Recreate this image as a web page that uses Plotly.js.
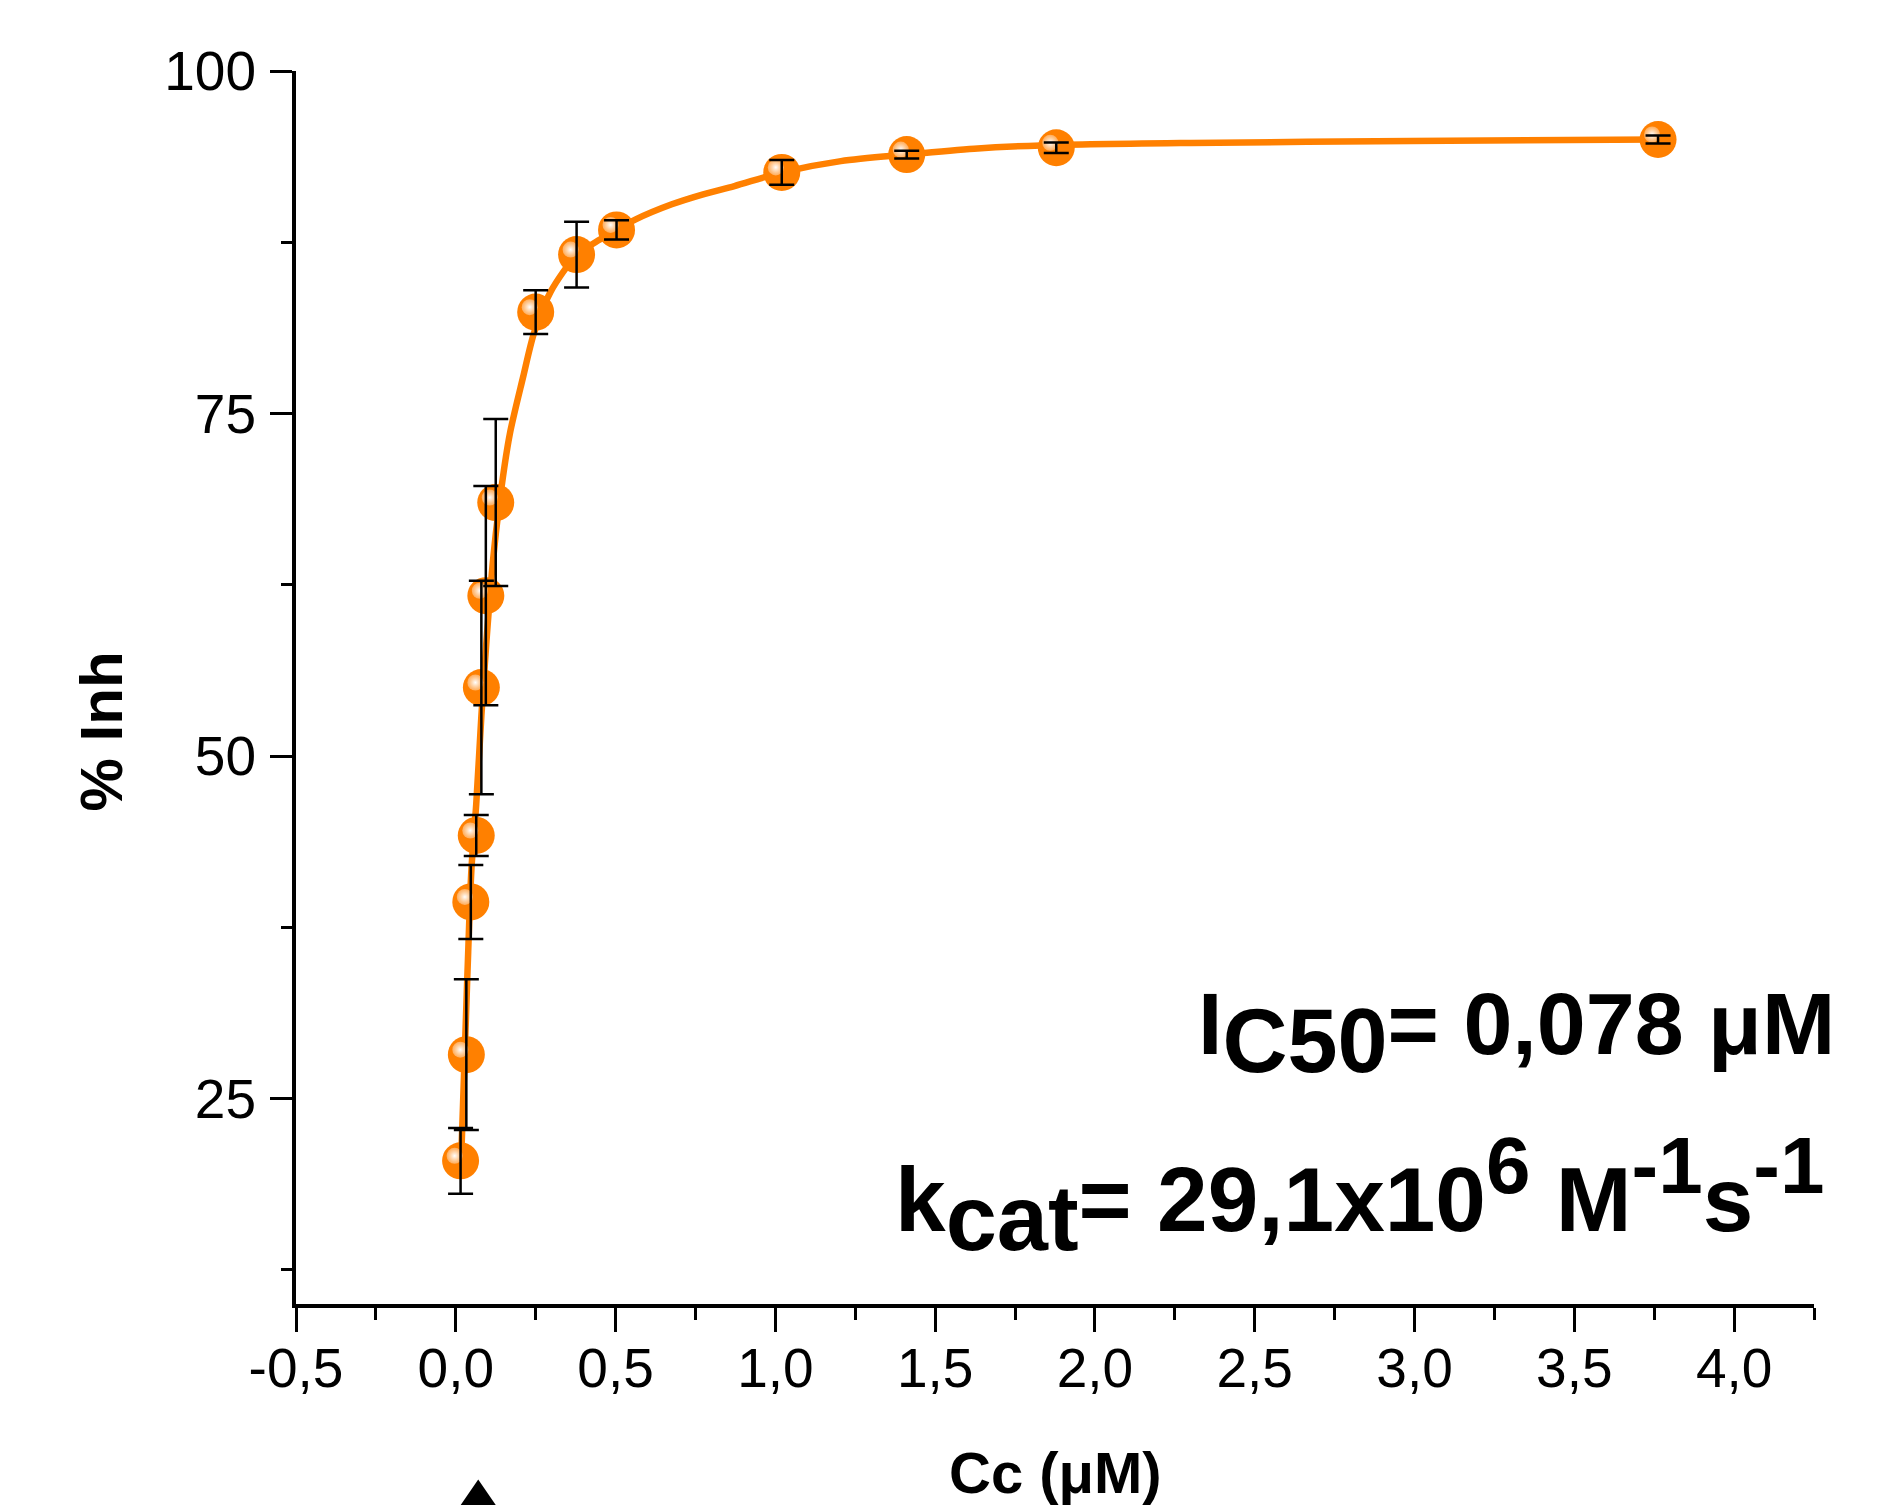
<!DOCTYPE html>
<html>
<head>
<meta charset="utf-8">
<script src="https://cdn.plot.ly/plotly-3.0.1.min.js"></script>
<style>html,body{margin:0;padding:0;background:#fff;}#chart{width:1900px;height:1505px;}</style>
</head>
<body>
<div id="chart"></div>
<script>
// Measured points: concentration (µM) and % inhibition with error
const concentration = [0.015, 0.033, 0.047, 0.064, 0.080, 0.094, 0.125, 0.250, 0.378, 0.503, 1.020, 1.411, 1.879, 3.762];
const inhibition    = [20.45, 28.2, 39.35, 44.2, 55.0, 61.7, 68.5, 82.4, 86.6, 88.4, 92.6, 93.9, 94.4, 95.0];
const inhibitionErr = [2.4, 5.5, 2.7, 1.5, 7.8, 8.0, 6.1, 1.6, 2.4, 0.7, 0.9, 0.28, 0.38, 0.3];

// Fitted curve
const fitConc = [0.015, 0.036, 0.049, 0.064, 0.080, 0.096, 0.117, 0.143, 0.169, 0.210, 0.245, 0.297, 0.378, 0.451, 0.563, 0.676, 0.774, 0.872, 1.020, 1.205, 1.411, 1.622, 1.831, 2.300, 2.987, 3.762];
const fitInh  = [19.3, 33.8, 41.75, 46.5, 52.9, 58.4, 64.4, 69.6, 73.5, 77.6, 80.9, 83.9, 86.55, 87.7, 89.17, 90.27, 91.0, 91.6, 92.6, 93.42, 93.9, 94.33, 94.57, 94.75, 94.89, 95.0];

// Tick labels
const xTickVals = [-0.5, 0, 0.5, 1, 1.5, 2, 2.5, 3, 3.5, 4];
const xTickText = ["-0,5", "0,0", "0,5", "1,0", "1,5", "2,0", "2,5", "3,0", "3,5", "4,0"];
const yTickVals = [25, 50, 75, 100];
const yTickText = ["25", "50", "75", "100"];

const ORANGE = '#FF8000';
const FONT = 'Liberation Sans, Arial, sans-serif';
const xRange = [-0.5, 4.25];
const yRange = [10, 100];
// highlight offset (pixels -> axis units) for glossy spot
const hdx = 6 / 320.4, hdy = 5 / 13.72;

const traces = [
  {
    x: fitConc, y: fitInh, type: 'scatter', mode: 'lines',
    line: {color: ORANGE, width: 6.5, shape: 'spline', smoothing: 0.8},
    hoverinfo: 'skip', showlegend: false
  },
  {
    x: concentration, y: inhibition, type: 'scatter', mode: 'markers',
    marker: {color: ORANGE, size: 37, line: {width: 0}},
    showlegend: false
  },
  {
    x: concentration, y: inhibition, type: 'scatter', mode: 'markers',
    xaxis: 'x2', yaxis: 'y2',
    marker: {color: 'rgba(255,185,115,0.8)', size: 16, line: {width: 0},
             gradient: {type: 'radial', color: 'rgba(255,255,255,1)'}},
    hoverinfo: 'skip', showlegend: false
  },
  {
    x: concentration, y: inhibition, type: 'scatter', mode: 'markers',
    xaxis: 'x3', yaxis: 'y3',
    marker: {color: ORANGE, size: 2, opacity: 0},
    error_y: {type: 'data', array: inhibitionErr, visible: true, color: '#000', thickness: 2.5, width: 12.5},
    hoverinfo: 'skip', showlegend: false
  }
];

const tickFont = {family: FONT, size: 55, color: '#000'};

const layout = {
  width: 1900, height: 1505,
  margin: {l: 296, r: 86, t: 71, b: 201, pad: 0},
  paper_bgcolor: '#fff', plot_bgcolor: '#fff',
  showlegend: false,
  xaxis: {
    range: xRange, tickmode: 'array', tickvals: xTickVals, ticktext: xTickText,
    showgrid: false, zeroline: false, showline: true, linecolor: '#000', linewidth: 4,
    ticks: 'outside', ticklen: 24, tickwidth: 3, tickcolor: '#000',
    minor: {tickmode: 'linear', tick0: -0.5, dtick: 0.25, ticks: 'outside', ticklen: 12, tickwidth: 3, tickcolor: '#000', showgrid: false},
    tickfont: tickFont, ticklabelstandoff: -11
  },
  yaxis: {
    range: yRange, tickmode: 'array', tickvals: yTickVals, ticktext: yTickText,
    showgrid: false, zeroline: false, showline: true, linecolor: '#000', linewidth: 4,
    ticks: 'outside', ticklen: 22, tickwidth: 3, tickcolor: '#000',
    minor: {tickmode: 'linear', tick0: 0, dtick: 12.5, ticks: 'outside', ticklen: 11, tickwidth: 3, tickcolor: '#000', showgrid: false},
    tickfont: tickFont, ticklabelstandoff: 3
  },
  xaxis2: {overlaying: 'x', anchor: 'y2', range: [xRange[0] + hdx, xRange[1] + hdx], visible: false},
  yaxis2: {overlaying: 'y', anchor: 'x2', range: [yRange[0] - hdy, yRange[1] - hdy], visible: false},
  xaxis3: {overlaying: 'x', anchor: 'y3', range: xRange, visible: false},
  yaxis3: {overlaying: 'y', anchor: 'x3', range: yRange, visible: false},
  annotations: [
    {
      xref: 'paper', yref: 'paper', x: -0.1281, y: 0.464, xanchor: 'center', yanchor: 'middle',
      text: '<b>% Inh</b>', textangle: -90, showarrow: false,
      font: {family: FONT, size: 60, color: '#000'}
    },
    {
      xref: 'paper', yref: 'paper', x: 0.5, y: -0.109, xanchor: 'center', yanchor: 'top',
      text: '<b>Cc (\u03bcM)</b>', showarrow: false,
      font: {family: FONT, size: 58, color: '#000'}
    },
    {
      xref: 'paper', yref: 'paper', x: 1.015, y: 0.22, xanchor: 'right', yanchor: 'middle',
      text: '<b>I<sub><span style="font-size:90px">C50</span></sub>= 0,078 \u03bcM</b>', showarrow: false,
      font: {family: FONT, size: 88, color: '#000'}
    },
    {
      xref: 'paper', yref: 'paper', x: 1.008, y: 0.088, xanchor: 'right', yanchor: 'middle',
      text: '<b>k<sub><span style="font-size:92px">cat</span></sub>= 29,1x10<sup><span style="font-size:80px">6</span></sup> M<sup><span style="font-size:80px">-1</span></sup>s<sup><span style="font-size:80px">-1</span></sup></b>',
      showarrow: false,
      font: {family: FONT, size: 91, color: '#000'}
    }
  ],
  shapes: [
    {
      type: 'path', xref: 'paper', yref: 'paper',
      path: 'M 0.12004 -0.1423 L 0.13371 -0.1668 L 0.10637 -0.1668 Z',
      fillcolor: '#000', line: {width: 0}
    }
  ]
};

Plotly.newPlot('chart', traces, layout, {staticPlot: true, displayModeBar: false});
</script>
</body>
</html>
